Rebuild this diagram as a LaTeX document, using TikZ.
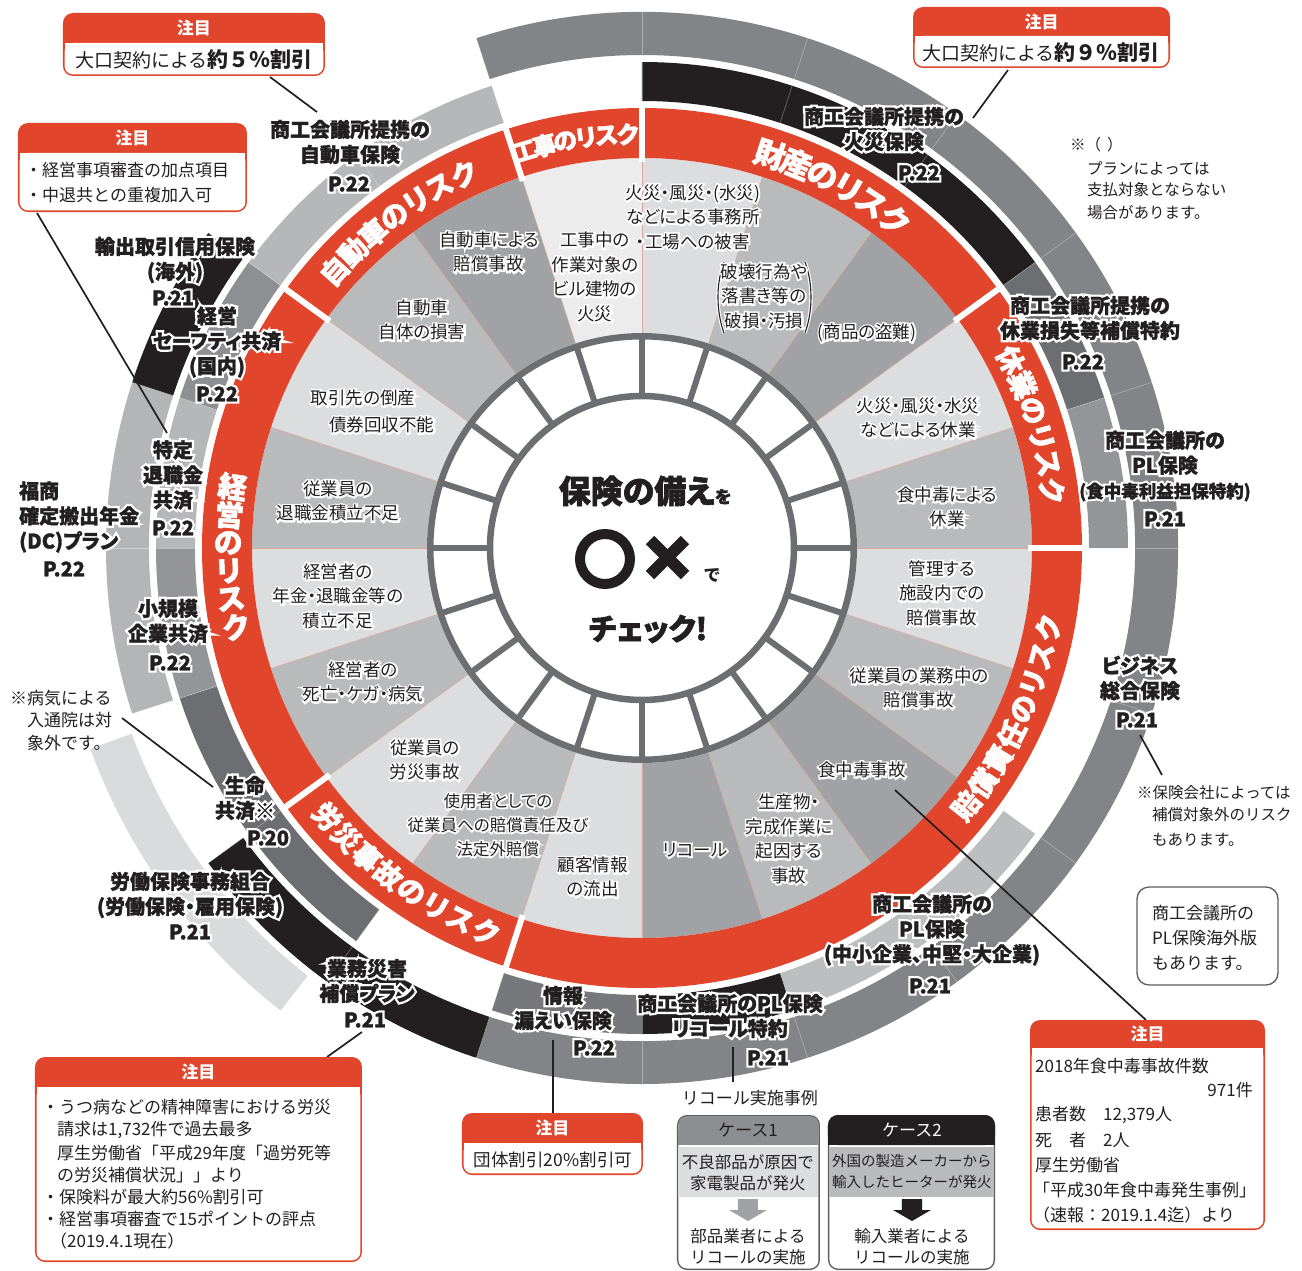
\documentclass[tikz,border=0pt]{standalone}
\usepackage{fontspec}
\setmainfont{Noto Sans CJK JP}
\newfontfamily\jpp[RawFeature=+palt]{Noto Sans CJK JP}
\definecolor{rred}{HTML}{E1452B}
\definecolor{ink}{HTML}{231F20}
\definecolor{gvl}{HTML}{ECECEC}
\definecolor{gl}{HTML}{DCDDDF}
\definecolor{gm}{HTML}{B9BABC}
\definecolor{gd}{HTML}{A1A2A5}
\definecolor{cellg}{HTML}{6D6E71}
\definecolor{sline}{HTML}{D9AA9E}
\definecolor{rb}{HTML}{838487}
\definecolor{ra1}{HTML}{6D6E71}
\definecolor{ra2}{HTML}{939598}
\definecolor{ra3}{HTML}{BDBEC0}
\definecolor{ra4}{HTML}{77787B}
\definecolor{ra5}{HTML}{B6B7B9}
\definecolor{ra6}{HTML}{8E8F92}
\definecolor{rb2}{HTML}{B4B5B7}
\definecolor{rc}{HTML}{DADBDC}
\definecolor{boxg}{HTML}{5D5E61}
\definecolor{hg}{HTML}{8D8E91}
\tikzset{
  risk/.style={font=\jpp\fontsize{17.5}{24.5}\selectfont, text=ink, align=center, inner sep=0pt},
  riskW/.style={font=\jpp\fontsize{17.5}{24.5}\selectfont\addfontfeature{FakeBold=20}, text=white, align=center, inner sep=0pt},
  risksm/.style={font=\jpp\fontsize{16.5}{24}\selectfont, text=ink, align=center, inner sep=0pt},
  risksmW/.style={font=\jpp\fontsize{16.5}{24}\selectfont\addfontfeature{FakeBold=20}, text=white, align=center, inner sep=0pt},
  lbl/.style={font=\jpp\fontsize{20}{25}\selectfont\bfseries\addfontfeature{FakeBold=1.5}, text=ink, align=center, inner sep=0pt},
  lblW/.style={font=\jpp\fontsize{20}{25}\selectfont\bfseries\addfontfeature{FakeBold=24}, text=white, align=center, inner sep=0pt},
  redt/.style={text=white, inner sep=0pt},
  hdr/.style={font=\fontsize{17}{17}\selectfont\bfseries, text=white, inner sep=0pt},
  note/.style={font=\fontsize{17}{17}\selectfont, text=ink, inner sep=0pt, anchor=west},
  notesm/.style={font=\fontsize{15.5}{15.5}\selectfont, text=ink, inner sep=0pt, anchor=west},
  conn/.style={draw=ink, line width=1.7},
}
% #1 name, #2 text style, #3 halo style, #4 position, #5 text
\newcommand\halo[5][]{%
  \node[#3] at (#4) {#5};%
  \node[#2,#1] at (#4) {#5};}
\newcommand\annseg[5]{\fill[#1] (#2:#4) arc[start angle=#2, end angle=#3, radius=#4] -- (#3:#5) arc[start angle=#3, end angle=#2, radius=#5] -- cycle;}
\newcommand\arctext[7]{%
  \foreach \ch [count=\ci from 0] in {#7}{%
    \pgfmathsetmacro\ang{#2+\ci*(#3)}%
    \pgfmathsetmacro\rot{\ang+(#5)}%
    \node[#1, font=\jpp\fontsize{#6}{#6}\selectfont\bfseries\addfontfeature{FakeBold=1.5}, rotate=\rot] at (\ang:#4) {\ch};}}
\newcommand\notebox[6]{%
  \fill[rred, rounded corners=10] (#2,-#3) rectangle (#4,-#5);
  \fill[white, rounded corners=8.5] (#2+1.6,-#6) rectangle (#4-1.6,-#5+1.6);
  \fill[white] (#2+1.6,-#6) rectangle (#4-1.6,-#6-12);
  \node[hdr] (#1) at ({(#2+#4)/2},{-(#3+#6)/2}) {注目};}
\begin{document}
\begin{tikzpicture}[x=1pt,y=1pt]
\fill[white] (-642,548) rectangle (660,-722);
% risk sectors
\foreach \s/\cc in {0/gm,18/gl,36/gd,54/gm,72/gl,90/gvl,108/gd,126/gm,144/gl,162/gm,180/gl,198/gm,216/gl,234/gm,252/gl,270/gd,288/gm,306/gd,324/gm,342/gl}{
  \fill[\cc] (0,0) -- (\s:390) arc[start angle=\s, delta angle=18, radius=390] -- cycle;}
\foreach \a in {0,18,...,342} \draw[sline, line width=0.6] (\a:215) -- (\a:390);
% red ring
\fill[rred, even odd rule] (0,0) circle (440) (0,0) circle (390);
\foreach \a in {0,36,90,108,144,216,252} \draw[white, line width=6] (\a:386) -- (\a:444);
% ring A
\annseg{ink}{36}{90}{447}{486}
\annseg{ra1}{18}{36}{447}{486}
\annseg{ra2}{0}{18}{447}{486}
\annseg{ra3}{-72}{-36}{447}{486}
\annseg{ink}{-90}{-72}{447}{486}
\annseg{ra4}{-108}{-90}{447}{486}
\annseg{ra1}{198}{234}{447}{486}
\annseg{ra2}{180}{198}{447}{486}
\annseg{ra5}{162}{180}{447}{486}
\annseg{ra6}{144}{162}{447}{486}
\annseg{ra5}{108}{144}{447}{486}
% ring B
\annseg{rb}{-108}{108}{493}{536}
\annseg{ink}{216}{252}{493}{536}
\annseg{rb2}{162}{198}{493}{536}
\annseg{ink}{144}{162}{493}{536}
% ring C
\annseg{rc}{200}{232}{543}{587}
\foreach \a in {0,18,...,342}{\draw[white, opacity=0.35, line width=0.6] (\a:447) -- (\a:486) (\a:493) -- (\a:536);}
% check cells
\fill[white] (0,0) circle (215);
\draw[cellg, line width=6.5] (0,0) circle (211.75);
\draw[cellg, line width=6.5] (0,0) circle (152);
\foreach \a in {0,18,...,342} \draw[cellg, line width=6] (\a:152) -- (\a:212);
% red ring titles
\arctext{redt}{106.5}{-2.9}{414}{-90}{24}{工,事,の,リ,ス,ク}
\arctext{redt}{72}{-3.9}{414}{-90}{31}{財,産,の,リ,ス,ク}
\arctext{redt}{138}{-3.75}{414}{-90}{28}{自,動,車,の,リ,ス,ク}
\arctext{redt}{27}{-3.8}{414}{-90}{28}{休,業,の,リ,ス,ク}
\arctext{redt}{171.5}{3.9}{414}{-180}{29}{経,営,の,リ,ス,ク}
\arctext{redt}{-38.5}{3.9}{414}{90}{28}{賠,償,責,任,の,リ,ス,ク}
\arctext{redt}{220.5}{3.9}{414}{90}{28}{労,災,事,故,の,リ,ス,ク}
\begin{scope}[shift={(-642,548)}]
% center
\node[name=c1, font=\jpp\fontsize{32}{32}\selectfont\bfseries\addfontfeature{FakeBold=2}, text=ink, inner sep=0pt] at (645,-491) {保険の備え{\fontsize{17}{17}\selectfont を}};
\draw[ink, line width=10] (605,-559) circle (25);
\draw[ink, line width=12] (650,-540) -- (685,-575) (685,-540) -- (650,-575);
\node[name=c2, font=\jpp\fontsize{17}{17}\selectfont\bfseries, text=ink, inner sep=0pt] at (712,-575) {で};
\node[name=c3, font=\jpp\fontsize{30}{30}\selectfont\bfseries\addfontfeature{FakeBold=2}, text=ink, inner sep=0pt] at (648,-629) {チェック!};
% risk texts
\halo[name=r1]{risk}{riskW}{595,-277}{工事中の\\作業対象の\\ビル建物の\\火災}
\halo[name=r2]{risk}{riskW}{693,-217}{火災・風災・(水災)\\などによる事務所\\・工場への被害}
\foreach \w/\pc in {3.4/white,1.1/ink}{\draw[\pc, line width=\w] (724,-262) .. controls (716,-283) and (716,-311) .. (724,-333); \draw[\pc, line width=\w] (805,-262) .. controls (813,-283) and (813,-311) .. (805,-333);}
\halo[name=r3]{risk}{riskW}{764,-296}{破壊行為や\\落書き等の\\破損・汚損}
\halo[name=r4]{risk}{riskW}{867,-333}{(商品の盗難)}
\halo[name=r5]{risk}{riskW}{918,-418}{火災・風災・水災\\などによる休業}
\halo[name=r6]{risk}{riskW}{947,-507}{食中毒による\\休業}
\halo[name=r7]{risk}{riskW}{942,-593}{管理する\\施設内での\\賠償事故}
\halo[name=r8]{risk}{riskW}{919,-688}{従業員の業務中の\\賠償事故}
\halo[name=r9]{risk}{riskW}{862,-770}{食中毒事故}
\halo[name=r10]{risk}{riskW}{789,-839}{生産物・\\完成作業に\\起因する\\事故}
\halo[name=r11]{risk}{riskW}{695,-850}{リコール}
\halo[name=r12]{risk}{riskW}{593,-877}{顧客情報\\の流出}
\halo[name=r13]{risksm}{risksmW}{498,-825}{使用者としての\\従業員への賠償責任及び\\法定外賠償}
\halo[name=r14]{risk}{riskW}{425,-760}{従業員の\\労災事故}
\halo[name=r15]{risk}{riskW}{363,-682}{経営者の\\死亡・ケガ・病気}
\halo[name=r16]{risk}{riskW}{338,-596}{経営者の\\年金・退職金等の\\積立不足}
\halo[name=r17]{risk}{riskW}{338,-501}{従業員の\\退職金積立不足}
\halo[name=r18a]{risk}{riskW}{363,-398}{取引先の倒産}
\halo[name=r18b]{risk}{riskW}{382,-425}{債券回収不能}
\halo[name=r19]{risk}{riskW}{422,-320}{自動車\\自体の損害}
\halo[name=r20]{risk}{riskW}{489,-252}{自動車による\\賠償事故}
% connectors
\coordinate (ka1) at (270,-77); \coordinate (kb1) at (317,-112);
\coordinate (ka2) at (37,-213); \coordinate (kb2) at (167,-433);
\coordinate (ka3) at (1008,-70); \coordinate (kb3) at (973,-118);
\coordinate (ka4) at (122,-718); \coordinate (kb4) at (213,-787);
\coordinate (ka5) at (327,-1057); \coordinate (kb5) at (362,-1032);
\coordinate (ka6) at (553,-1040); \coordinate (kb6) at (553,-1113);
\coordinate (ka7) at (733,-1047); \coordinate (kb7) at (733,-1082);
\coordinate (ka8) at (895,-790); \coordinate (kb8) at (1146,-1020);
\coordinate (ka9) at (1140,-735); \coordinate (kb9) at (1162,-775);
\foreach \p in {1,...,9} \draw[conn] (ka\p) -- (kb\p);
% product labels
\halo[name=L1]{lbl}{lblW}{350,-142}{商工会議所提携の\\自動車保険}
\halo[name=P1]{lbl}{lblW}{349,-184}{P.22}
\halo[name=L2]{lbl}{lblW}{884,-129}{商工会議所提携の\\火災保険}
\halo[name=P2]{lbl}{lblW}{919,-173}{P.22}
\halo[name=L3]{lbl}{lblW}{1090,-318}{商工会議所提携の\\休業損失等補償特約}
\halo[name=P3]{lbl}{lblW}{1083,-362}{P.22}
\halo[name=L4]{lbl}{lblW}{1165,-466}{商工会議所の\\PL保険\\{\fontsize{17.5}{25}\selectfont(食中毒利益担保特約)}}
\halo[name=P4]{lbl}{lblW}{1165,-519}{P.21}
\halo[name=L5]{lbl}{lblW}{1140,-678}{ビジネス\\総合保険}
\halo[name=P5]{lbl}{lblW}{1137,-720}{P.21}
\halo[name=L6]{lbl}{lblW}{932,-930}{商工会議所の\\PL保険\\(中小企業、中堅・大企業)}
\halo[name=P6]{lbl}{lblW}{930,-986}{P.21}
\halo[name=L7]{lbl}{lblW}{730,-1016}{商工会議所のPL保険\\リコール特約}
\halo[name=P7]{lbl}{lblW}{768,-1058}{P.21}
\halo[name=L8]{lbl}{lblW}{563,-1008}{情報\\漏えい保険}
\halo[name=P8]{lbl}{lblW}{594,-1048}{P.22}
\halo[name=L9]{lbl}{lblW}{367,-981}{業務災害\\補償プラン}
\halo[name=P9]{lbl}{lblW}{365,-1020}{P.21}
\halo[name=L10]{lbl}{lblW}{190,-895}{労働保険事務組合\\(労働保険・雇用保険)}
\halo[name=P10]{lbl}{lblW}{190,-932}{P.21}
\halo[name=L11]{lbl}{lblW}{245,-798}{生命\\共済※}
\halo[name=P11]{lbl}{lblW}{268,-838}{P.20}
\halo[name=L12]{lbl}{lblW}{168,-621}{小規模\\企業共済}
\halo[name=P12]{lbl}{lblW}{170,-663}{P.22}
\halo[name=L13]{lbl,align=left,anchor=west}{lblW,align=left,anchor=west}{19,-517}{福商\\確定搬出年金\\(DC)プラン}
\halo[name=P13]{lbl}{lblW}{64,-569}{P.22}
\halo[name=L14]{lbl}{lblW}{173,-475}{特定\\退職金\\共済}
\halo[name=P14]{lbl}{lblW}{173,-528}{P.22}
\halo[name=L15]{lbl}{lblW}{217,-342}{経営\\セーフティ共済\\(国内)}
\halo[name=P15]{lbl}{lblW}{217,-394}{P.22}
\halo[name=L16]{lbl}{lblW}{175,-260}{輸出取引信用保険\\(海外)}
\halo[name=P16]{lbl}{lblW}{173,-298}{P.21}
% note boxes
\notebox{n1}{63}{13}{325}{76}{43}
\node[name=n1t, inner sep=0pt, text=ink] at (194,-60) {\fontsize{19}{19}\selectfont 大口契約による{\fontsize{21}{21}\selectfont\bfseries 約５％割引}};
\notebox{n2}{18}{123}{247}{212}{153}
\node[note, name=n2a] at (25,-170) {・経営事項審査の加点項目};
\node[note, name=n2b] at (25,-195) {・中退共との重複加入可};
\notebox{n3}{913}{7}{1170}{68}{36}
\node[name=n3t, inner sep=0pt, text=ink] at (1041,-53) {\fontsize{19}{19}\selectfont 大口契約による{\fontsize{21}{21}\selectfont\bfseries 約９％割引}};
\notebox{n4}{35}{1057}{362}{1262}{1087}
\node[note, name=n4a] at (42,-1107) {・うつ病などの精神障害における労災};
\node[note, name=n4b] at (57,-1130) {請求は1,732件で過去最多};
\node[note, name=n4c] at (57,-1153) {厚生労働省「平成29年度「過労死等};
\node[note, name=n4d] at (57,-1175) {の労災補償状況」」より};
\node[note, name=n4e] at (42,-1197) {・保険料が最大約56\%割引可};
\node[note, name=n4f] at (42,-1219) {・経営事項審査で15ポイントの評点};
\node[note, name=n4g] at (50,-1241) {（2019.4.1現在）};
\notebox{n5}{462}{1113}{643}{1175}{1143}
\node[name=n5t, inner sep=0pt, text=ink, font=\fontsize{17.5}{17.5}\selectfont] at (553,-1160) {団体割引20\%割引可};
\notebox{n6}{1030}{1020}{1265}{1230}{1048}
\node[note, name=n6a] at (1035,-1066) {2018年食中毒事故件数};
\node[note, name=n6b, anchor=east] at (1253,-1090) {971件};
\node[note, name=n6c] at (1035,-1115) {患者数　12,379人};
\node[note, name=n6d] at (1035,-1140) {死　者　2人};
\node[note, name=n6e] at (1035,-1165) {厚生労働省};
\node[note, name=n6f] at (1033,-1190) {「平成30年食中毒発生事例」};
\node[note, name=n6g] at (1033,-1215) {（速報：2019.1.4迄）より};
% overseas box
\draw[boxg, line width=1.3, rounded corners=12] (1137,-887) rectangle (1278,-985);
\node[note, name=ov1] at (1152,-913) {商工会議所の};
\node[note, name=ov2] at (1152,-938) {PL保険海外版};
\node[note, name=ov3] at (1152,-963) {もあります。};
% free notes
\node[notesm, name=f1] at (1070,-145) {※（\hspace{6pt}）};
\node[notesm, name=f2] at (1087,-168) {プランによっては};
\node[notesm, name=f3] at (1087,-190) {支払対象とならない};
\node[notesm, name=f4] at (1087,-213) {場合があります。};
\node[notesm, name=g1] at (1137,-793) {※保険会社によっては};
\node[notesm, name=g2] at (1152,-815) {補償対象外のリスク};
\node[notesm, name=g3] at (1152,-840) {もあります。};
\node[note, name=h1] at (10,-698) {※病気による};
\node[note, name=h2] at (27,-720) {入通院は対};
\node[note, name=h3] at (27,-743) {象外です。};
% recall cases
\node[note, name=rc0, anchor=center] at (750,-1098) {リコール実施事例};
% case 1
\fill[boxg, rounded corners=10] (677,-1115) rectangle (820,-1270);
\fill[white, rounded corners=8.5] (678.5,-1116.5) rectangle (818.5,-1268.5);
\fill[hg, rounded corners=8.5] (678.5,-1116.5) rectangle (818.5,-1145);
\fill[hg] (678.5,-1130) rectangle (818.5,-1145);
\fill[gl] (678.5,-1146.5) rectangle (818.5,-1197);
\fill[gd] (738,-1199) rectangle (758,-1210) -- (767,-1210) -- (748,-1221) -- (729,-1210) -- cycle;
\node[name=cs1, inner sep=0pt, text=ink, font=\fontsize{17}{17}\selectfont] at (748,-1130) {ケース1};
\node[name=cs1a, inner sep=0pt, text=ink, font=\fontsize{16.5}{21}\selectfont, align=center] at (748,-1173) {不良部品が原因で\\家電製品が発火};
\node[name=cs1b, inner sep=0pt, text=ink, font=\fontsize{16.5}{21}\selectfont, align=center] at (748,-1247) {部品業者による\\リコールの実施};
% case 2
\fill[boxg, rounded corners=10] (828,-1115) rectangle (995,-1270);
\fill[white, rounded corners=8.5] (829.5,-1116.5) rectangle (993.5,-1268.5);
\fill[ink, rounded corners=10] (828,-1115) rectangle (995,-1145);
\fill[ink] (828,-1130) rectangle (995,-1145);
\fill[gm] (829.5,-1146.5) rectangle (993.5,-1197);
\fill[ink] (902,-1199) rectangle (922,-1210) -- (931,-1210) -- (912,-1221) -- (893,-1210) -- cycle;
\node[name=cs2, inner sep=0pt, text=white, font=\fontsize{17}{17}\selectfont] at (912,-1130) {ケース2};
\node[name=cs2a, inner sep=0pt, text=ink, font=\fontsize{14.5}{21}\selectfont, align=center] at (912,-1172) {外国の製造メーカーから\\輸入したヒーターが発火};
\node[name=cs2b, inner sep=0pt, text=ink, font=\fontsize{16.5}{21}\selectfont, align=center] at (912,-1247) {輸入業者による\\リコールの実施};
\end{scope}
\pgfresetboundingbox
\path[use as bounding box] (-642,548) rectangle (660,-722);
\end{tikzpicture}
\end{document}
